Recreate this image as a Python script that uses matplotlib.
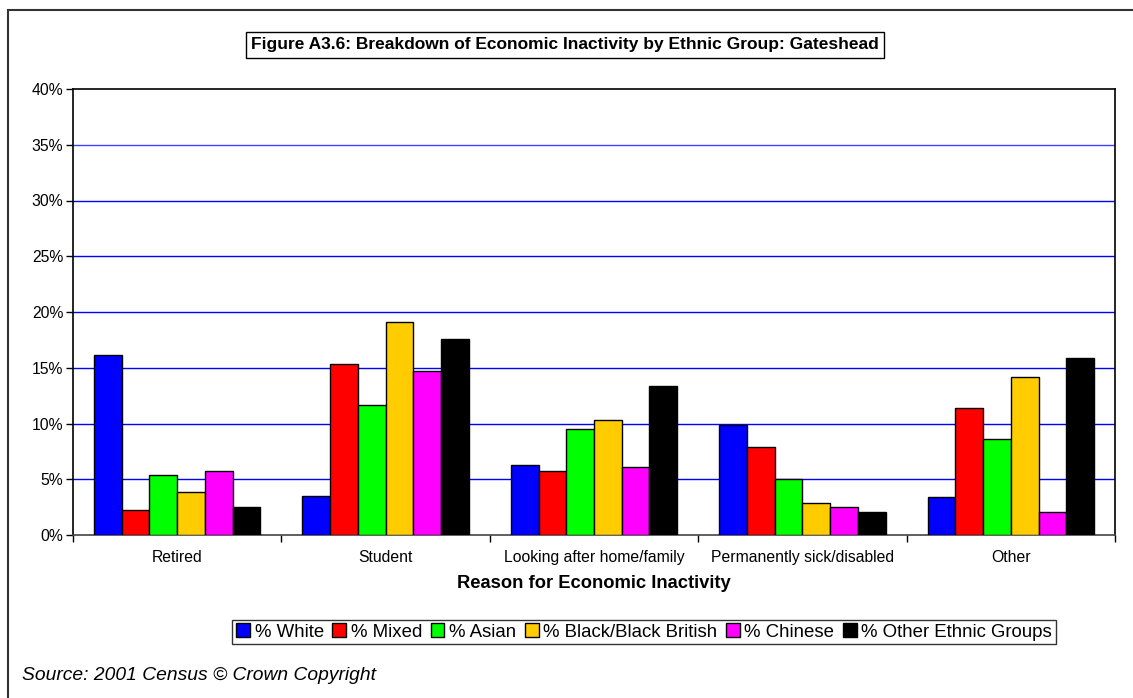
import numpy as np
import matplotlib
matplotlib.use("Agg")
import matplotlib.pyplot as plt
from matplotlib.patches import Rectangle
from matplotlib.ticker import PercentFormatter

plt.rcParams['font.family'] = ['Liberation Sans', 'DejaVu Sans']

# Categories and series (percent of economically inactive)
reasons = ["Retired", "Student", "Looking after home/family",
           "Permanently sick/disabled", "Other"]
groups = ["% White", "% Mixed", "% Asian", "% Black/Black British",
          "% Chinese", "% Other Ethnic Groups"]
white = [16.1, 3.5, 6.3, 9.9, 3.4]
mixed = [2.2, 15.3, 5.7, 7.9, 11.4]
asian = [5.4, 11.7, 9.5, 5.0, 8.6]
black = [3.9, 19.1, 10.3, 2.9, 14.2]
chinese = [5.7, 14.7, 6.1, 2.5, 2.1]
other = [2.5, 17.6, 13.4, 2.1, 15.9]
series = [white, mixed, asian, black, chinese, other]
colors = ["#0000FF", "#FF0000", "#00FF00", "#FFCC00", "#FF00FF", "#000000"]

W, H = 1133, 698
fig = plt.figure(figsize=(W / 100, H / 100), dpi=100)

# outer chart frame (runs off the right and bottom edges)
fig.patches.append(Rectangle((8 / W, -0.1), 1.2, (H - 10) / H + 0.1,
                             transform=fig.transFigure, fill=False,
                             edgecolor="#333333", lw=1.5))

ax = fig.add_axes([73 / W, (H - 535) / H, (1115 - 73) / W, (535 - 89) / H])

x = np.arange(len(reasons))
bw = 0.133
for i, (vals, c, name) in enumerate(zip(series, colors, groups)):
    ax.bar(x + (i - 2.5) * bw, vals, width=bw, color=c, edgecolor="black",
           linewidth=1.0, label=name, zorder=3)

ax.set_xlim(-0.5, len(reasons) - 0.5)
ax.set_ylim(0, 40)
ax.set_yticks(np.arange(0, 41, 5))
ax.yaxis.set_major_formatter(PercentFormatter(decimals=0))
for y in range(5, 40, 5):
    ax.axhline(y, color="#0000FF", lw=1.0, alpha=0.75 if y == 35 else 1, zorder=1)

ax.set_xticks(x)
ax.set_xticklabels(reasons, fontsize=11.3)
ax.set_xticks(np.arange(-0.5, len(reasons)), minor=True)
ax.tick_params(axis="x", which="major", length=0, pad=11)
ax.tick_params(axis="x", which="minor", length=5, width=1, direction="out")
ax.tick_params(axis="y", length=5, width=1, direction="out", labelsize=11.3, pad=2)
for s in ax.spines.values():
    s.set_linewidth(1.2)
ax.spines["bottom"].set_color("#444444")

ax.set_xlabel("Reason for Economic Inactivity", fontsize=13.2, fontweight="bold",
              labelpad=7)

fig.text(565 / W, 1 - 45 / H,
         "Figure A3.6: Breakdown of Economic Inactivity by Ethnic Group: Gateshead",
         ha="center", va="center", fontsize=12.5, fontweight="bold",
         bbox=dict(boxstyle="square,pad=0.3", facecolor="white",
                   edgecolor="black", lw=1))

leg = fig.legend(loc="center", bbox_to_anchor=(644 / W, 1 - 632 / H), ncol=6,
                 fontsize=13.4, frameon=True, fancybox=False, handlelength=0.75,
                 handleheight=0.75, handletextpad=0.25, columnspacing=0.45,
                 borderpad=0.2, borderaxespad=0)
leg.get_frame().set_edgecolor("black")
leg.get_frame().set_linewidth(1)

fig.text(22 / W, 1 - 675 / H, "Source: 2001 Census \u00a9 Crown Copyright",
         ha="left", va="center", fontsize=13.9, style="italic")

fig.savefig("out.png", dpi=100)
